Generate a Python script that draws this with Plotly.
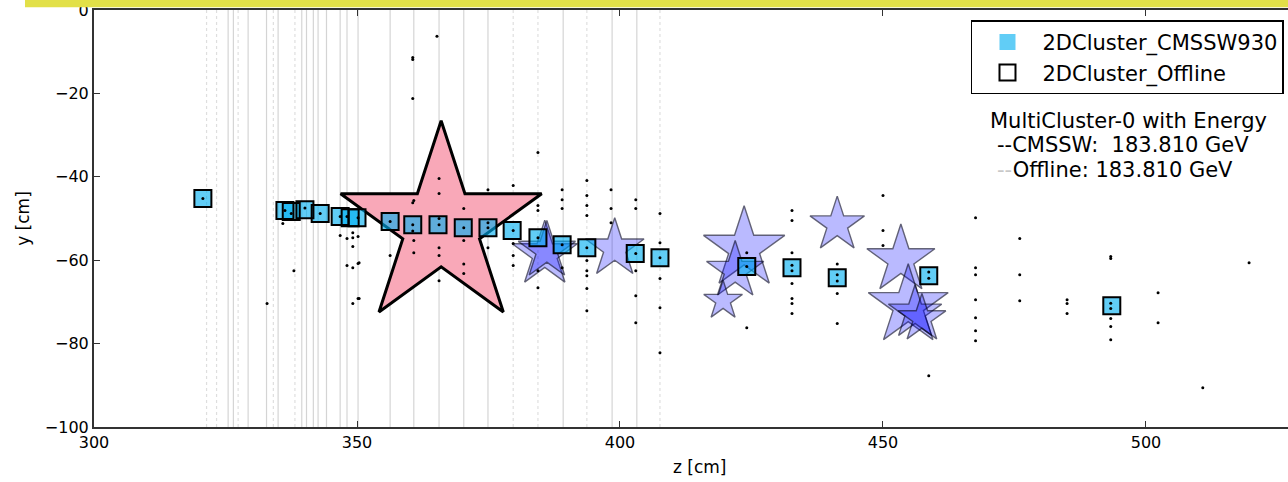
import plotly.graph_objects as go

# ---- detector layer z positions [cm] ----
layers_solid = [325.5, 326.5, 329.3, 332.8, 335.0, 339.5, 340.4, 341.7, 342.6,
                344.2, 346.8, 348.1, 350.2, 356.3, 360.8, 365.6, 370.3, 374.9,
                389.2, 398.5, 403.2]
layers_dotted = [321.4, 323.3, 327.4, 334.1, 338.2, 379.7, 384.4, 393.7, 407.6]

# ---- 2D clusters (z [cm], y [cm]) ----
cl_z = [320.7, 336.3, 337.5, 340.1, 343.0, 346.8, 348.7, 350.0, 356.3, 360.6,
        365.4, 370.2, 374.9, 379.5, 384.4, 389.0, 393.7, 402.9, 407.6, 424.1,
        432.7, 441.3, 458.7, 493.5]
cl_y = [-45.2, -48.1, -48.3, -47.9, -48.8, -49.5, -49.8, -49.8, -50.7, -51.5,
        -51.5, -52.2, -52.2, -52.9, -54.6, -56.3, -57.0, -58.4, -59.4, -61.5,
        -61.8, -64.2, -63.7, -70.9]

# ---- multiclusters (z [cm], y [cm], energy [GeV]) ----
mc0_z = [366.0]
mc0_y = [-51.9]
mc0_e = [183.81]
mc_z = [385.7, 386.1, 399.0, 423.6, 421.9, 419.6, 441.3, 453.4, 454.8, 456.1, 457.4]
mc_y = [-58.6, -57.7, -57.2, -57.2, -62.5, -69.7, -51.5, -59.9, -70.9, -72.6, -74.0]
mc_e = [19.3, 14.9, 15.6, 30.0, 14.9, 6.8, 13.5, 21.0, 29.0, 12.9, 10.4]

# ---- reconstructed hits (z [cm], y [cm]) ----
hit_z = [360.6, 360.6, 360.6, 360.6, 365.2,
         349.2, 348.1, 349.2, 350.2, 349.2, 350.2, 338.0, 332.9, 356.3,
         346.8, 348.1, 349.2, 350.2, 335.9, 349.2, 350.4, 350.4,
         360.8, 360.8, 360.8,
         365.6, 365.6, 365.6, 365.6, 365.6,
         370.3, 370.3, 370.3, 370.3,
         374.9, 374.9,
         379.7, 379.7, 379.7, 379.7,
         384.4, 384.4, 384.4, 384.4, 384.4,
         389.0, 389.0, 389.0, 389.0,
         393.7, 393.7, 393.7, 393.7, 393.7, 393.7, 393.7, 393.7, 393.7,
         398.3, 398.3, 398.3,
         403.0, 403.0, 403.0, 403.0, 403.0,
         407.6, 407.6, 407.6, 407.6, 407.6,
         424.1, 424.1,
         432.7, 432.7, 432.7, 432.7, 432.7, 432.7, 432.7,
         441.3, 441.3, 441.3,
         450.0, 450.0, 450.0,
         458.7,
         467.6, 467.6, 467.6, 467.6, 467.6, 467.6, 467.6,
         476.0, 476.0, 476.0,
         485.0, 485.0, 485.0,
         493.3, 493.3, 493.3, 493.3, 493.3,
         502.3, 502.3,
         510.8, 519.6,
         # hits inside cluster boxes
         320.7, 336.3, 337.5, 340.1, 343.0, 346.8, 348.1, 350.2, 356.3, 360.6,
         360.6, 365.6, 365.6, 370.3, 374.9, 374.9, 379.7, 384.4, 389.0, 393.7,
         403.0, 407.6, 424.1, 432.7, 432.7, 441.3, 441.3, 458.7, 458.7, 493.3,
         493.3]
hit_y = [-11.4, -11.9, -21.2, -46.2, -6.3,
         -56.7, -61.3, -61.8, -60.8, -70.4, -69.2, -62.5, -70.4, -58.9,
         -54.1, -54.8, -54.6, -54.3, -51.2, -53.4, -60.6, -69.2,
         -45.7, -55.3, -58.2,
         -40.4, -44.0, -57.0, -58.9, -64.9,
         -47.6, -55.3, -60.9, -63.2,
         -43.1, -57.0,
         -42.1, -56.0, -58.9, -61.3,
         -34.2, -46.9, -48.1, -62.5, -66.6,
         -43.1, -45.5, -47.6, -61.8,
         -40.9, -44.5, -46.9, -49.3, -60.1, -62.5, -63.7, -66.8, -72.1,
         -43.1, -47.6, -51.0,
         -45.5, -47.6, -62.5, -68.5, -75.0,
         -48.8, -55.8, -64.4, -71.4, -82.2,
         -76.2, -58.2,
         -48.1, -50.5, -58.2, -65.6, -69.2, -70.4, -72.8,
         -60.9, -68.0, -75.2,
         -44.5, -52.9, -56.5,
         -87.7,
         -49.8, -61.8, -63.5, -69.5, -73.8, -76.9, -79.3,
         -54.8, -63.5, -69.7,
         -69.5, -70.4, -72.8,
         -59.1, -59.6, -74.0, -75.9, -79.1,
         -67.8, -75.0,
         -90.6, -60.6,
         -45.2, -48.1, -48.8, -47.5, -48.8, -49.5, -49.5, -49.8, -50.7, -51.5,
         -53.0, -51.5, -50.0, -52.2, -52.2, -51.0, -52.9, -54.6, -56.3, -57.0,
         -58.4, -59.4, -61.5, -61.2, -62.5, -63.5, -65.0, -62.8, -64.3, -70.3,
         -71.6]

X_TICKS = [300, 350, 400, 450, 500]
Y_TICKS = [-100, -80, -60, -40, -20, 0]
X_RANGE = [300, 527.0]
Y_RANGE = [-100, 0]

FONT = "DejaVu Sans"
STAR_SCALE = 11.14  # marker size per sqrt(GeV)


def vlines(zs):
    xs, ys = [], []
    for z in zs:
        xs += [z, z, None]
        ys += [Y_RANGE[0], Y_RANGE[1], None]
    return xs, ys


fig = go.Figure()

xs, ys = vlines(layers_solid)
fig.add_trace(go.Scatter(x=xs, y=ys, mode="lines", hoverinfo="skip", showlegend=False,
                         line=dict(color="rgba(0,0,0,0.17)", width=1.2)))
xs, ys = vlines(layers_dotted)
fig.add_trace(go.Scatter(x=xs, y=ys, mode="lines", hoverinfo="skip", showlegend=False,
                         line=dict(color="rgba(0,0,0,0.13)", width=1.2, dash="dot")))

# leading multicluster
fig.add_trace(go.Scatter(
    x=mc0_z, y=mc0_y, mode="markers", showlegend=False,
    marker=dict(symbol="star", size=[STAR_SCALE * e ** 0.5 for e in mc0_e],
                color="rgb(249,168,184)", opacity=1,
                line=dict(color="rgb(0,0,0)", width=3))))

# remaining multiclusters
fig.add_trace(go.Scatter(
    x=mc_z, y=mc_y, mode="markers", showlegend=False,
    marker=dict(symbol="star", size=[STAR_SCALE * e ** 0.5 for e in mc_e],
                color="rgba(0,0,255,0.38)",
                line=dict(color="rgba(0,0,30,0.85)", width=1.4))))

# 2D clusters
fig.add_trace(go.Scatter(
    x=cl_z, y=cl_y, mode="markers", name="2DCluster_CMSSW930",
    marker=dict(symbol="square", size=17, color="rgba(0,175,240,0.62)",
                line=dict(width=0))))
fig.add_trace(go.Scatter(
    x=cl_z, y=cl_y, mode="markers", name="2DCluster_Offline",
    marker=dict(symbol="square-open", size=17, color="black",
                line=dict(color="black", width=2))))

# rechits
fig.add_trace(go.Scatter(
    x=hit_z, y=hit_y, mode="markers", showlegend=False,
    marker=dict(symbol="circle", size=3, color="black")))

axis_common = dict(
    showgrid=False, zeroline=False, showline=True, linecolor="rgb(50,50,50)",
    linewidth=2, ticks="inside", ticklen=6, tickwidth=1, tickcolor="rgb(50,50,50)",
    tickfont=dict(family=FONT, size=16, color="black"),
)

fig.update_layout(
    width=1288, height=482,
    margin=dict(l=94, r=0, t=10, b=55),
    paper_bgcolor="white", plot_bgcolor="white",
    font=dict(family=FONT, color="black"),
    xaxis=dict(range=X_RANGE, tickvals=X_TICKS, mirror="ticks", **axis_common),
    yaxis=dict(range=Y_RANGE, tickvals=Y_TICKS, mirror=False, **axis_common),
    legend=dict(x=0.7345, y=0.975, xanchor="left", yanchor="top",
                bgcolor="white", bordercolor="black", borderwidth=1.5,
                font=dict(family=FONT, size=21, color="black"),
                itemwidth=60, entrywidth=330, entrywidthmode="pixels",
                tracegroupgap=0),
    shapes=[dict(type="rect", xref="paper", yref="paper",
                 x0=-0.0578, x1=1.0, y0=1.0065, y1=1.03,
                 fillcolor="rgb(226,224,72)", line=dict(width=0), layer="above")],
    annotations=[
        dict(text="z [cm]", xref="paper", yref="paper", x=0.5075, y=-0.096,
             showarrow=False, xanchor="center", yanchor="middle",
             font=dict(family=FONT, size=17)),
        dict(text="y [cm]", xref="paper", yref="paper", x=-0.060, y=0.5,
             showarrow=False, textangle=-90, xanchor="center", yanchor="middle",
             font=dict(family=FONT, size=17)),
        dict(text="MultiCluster-0 with Energy", xref="paper", yref="paper",
             x=0.7487, y=0.733, showarrow=False, xanchor="left", yanchor="middle",
             font=dict(family=FONT, size=21)),
        dict(text="--CMSSW:\u00a0 %.3f GeV" % mc0_e[0], xref="paper", yref="paper",
             x=0.7546, y=0.6756, showarrow=False, xanchor="left", yanchor="middle",
             font=dict(family=FONT, size=21)),
        dict(text="<span style='color:#c8c8c8'>--</span>Offline: %.3f GeV" % mc0_e[0],
             xref="paper", yref="paper",
             x=0.7546, y=0.6156, showarrow=False, xanchor="left", yanchor="middle",
             font=dict(family=FONT, size=21)),
    ],
)

fig.write_html("out.html")
